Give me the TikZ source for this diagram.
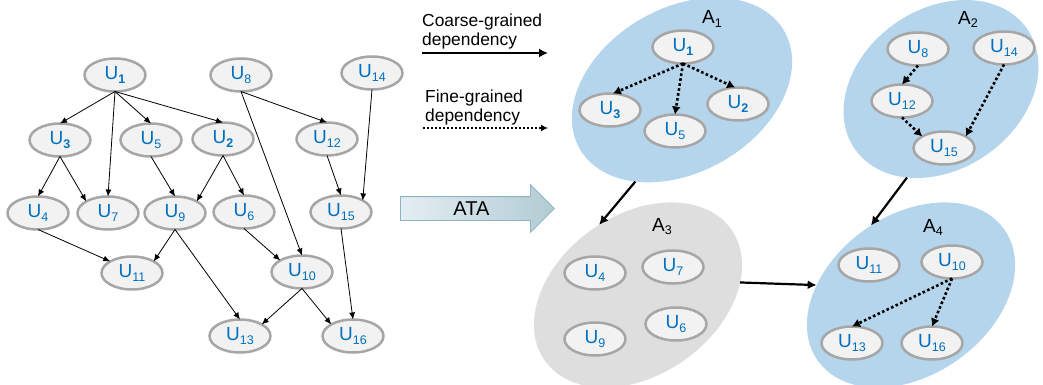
\documentclass[tikz,border=0pt]{standalone}
\usepackage{fontspec}
\setmainfont{Liberation Sans}
\usetikzlibrary{shapes.geometric,shapes.arrows,arrows.meta}
\definecolor{ublue}{RGB}{0,112,192}
\definecolor{uborder}{RGB}{166,166,166}
\definecolor{ufill}{RGB}{242,242,242}
\definecolor{clblue}{RGB}{180,213,236}
\definecolor{clgray}{RGB}{222,222,222}
\definecolor{ataL}{RGB}{228,238,242}
\definecolor{ataR}{RGB}{178,203,212}
\definecolor{ataB}{RGB}{140,180,195}
\newcommand{\Ulab}[1]{U\raisebox{-3.8pt}{\fontsize{12.5}{12.5}\selectfont #1}}
\newcommand{\Alab}[1]{A\raisebox{-3.8pt}{\fontsize{12.5}{12.5}\selectfont #1}}
\begin{document}
\begin{tikzpicture}[x=1pt,y=1pt,
  unode/.style={ellipse, draw=uborder, fill=ufill, line width=2.5pt,
    minimum width=61pt, minimum height=33pt, inner sep=0pt, outer sep=0pt,
    text=ublue, font=\fontsize{19}{19}\selectfont},
  dep/.style={-{Latex[length=7pt,width=6pt]}, line width=0.8pt},
  fine/.style={-{Latex[length=8pt,width=9pt]}, line width=2.6pt, dash pattern=on 2.6pt off 2.4pt},
  coarse/.style={-{Latex[length=9pt,width=9pt]}, line width=2.2pt},
  cluster/.style={ellipse, inner sep=0pt, outer sep=0pt},
  clabel/.style={font=\fontsize{19}{19}\selectfont, inner sep=0pt},
  legend/.style={anchor=north west, align=left, inner sep=0pt, font=\fontsize{17.4}{19}\selectfont},
]
\useasboundingbox (0,0) rectangle (1043,-385);

% ---------- original dependency graph ----------
\node[unode] (l1)  at (115,-75)  {\Ulab{\textbf{1}}};
\node[unode] (l8)  at (241,-75)  {\Ulab{8}};
\node[unode] (l14) at (372,-73)  {\Ulab{14}};
\node[unode] (l3)  at (60,-140)  {\Ulab{\textbf{3}}};
\node[unode] (l5)  at (151,-140) {\Ulab{5}};
\node[unode] (l2)  at (223,-139) {\Ulab{\textbf{2}}};
\node[unode] (l12) at (327,-139) {\Ulab{12}};
\node[unode] (l4)  at (38,-213)  {\Ulab{4}};
\node[unode] (l7)  at (108,-213) {\Ulab{7}};
\node[unode] (l9)  at (175,-213) {\Ulab{9}};
\node[unode] (l6)  at (244,-212) {\Ulab{6}};
\node[unode] (l15) at (341,-212) {\Ulab{15}};
\node[unode] (l11) at (132,-273) {\Ulab{11}};
\node[unode] (l10) at (302,-272) {\Ulab{10}};
\node[unode] (l13) at (240,-336) {\Ulab{13}};
\node[unode] (l16) at (353,-336) {\Ulab{16}};

\draw[dep] (l1.south) -- (l3.north);
\draw[dep] (l1.south) -- (l7.north);
\draw[dep] (l1.south) -- (l5.north);
\draw[dep] (l1.south) -- (l2.north);
\draw[dep] (l3.south) -- (l4.north);
\draw[dep] (l3.south) -- (l7.152);
\draw[dep] (l5.south) -- (l9.north);
\draw[dep] (l2.south) -- (l9.28);
\draw[dep] (l2.south) -- (l6.north);
\draw[dep] (l8.south) -- (l12.north);
\draw[dep] (l8.south) -- (l10.north);
\draw[dep] (l14.south) -- (l15.28);
\draw[dep] (l12.south) -- (l15.north);
\draw[dep] (l4.south) -- (l11.152);
\draw[dep] (l9.south) -- (l11.28);
\draw[dep] (l9.south) -- (l13.north);
\draw[dep] (l6.south) -- (l10.152);
\draw[dep] (l15.south) -- (l16.north);
\draw[dep] (l10.south) -- (l13.28);
\draw[dep] (l10.south) -- (l16.152);

% ---------- legend ----------
\node[legend] (lgc) at (422,-14) {Coarse-grained\\dependency};
\coordinate (cs) at (422,-53);
\coordinate (ce) at (548,-53);
\draw[coarse] (cs) -- (ce);
\node[legend] (lgf) at (425,-89.5) {Fine-grained\\dependency};
\coordinate (fs) at (423,-128);
\coordinate (fe) at (548,-128);
\draw[-{Latex[length=7pt,width=7pt]}, line width=2pt, dash pattern=on 2pt off 2pt] (fs) -- (fe);

% ---------- ATA arrow ----------
\node[single arrow, draw=ataB, line width=0.8pt, left color=ataL, right color=ataR,
  minimum height=154pt, single arrow head extend=12pt, inner xsep=0pt, inner ysep=4.5pt,
  text height=14pt, text depth=0pt, anchor=tail, font=\fontsize{20}{20}\selectfont]
  (ata) at (400,-208.5) {ATA};

% ---------- clusters ----------
\node[cluster, fill=clblue, minimum width=236pt, minimum height=164pt, rotate=30] (A1) at (682,-90) {};
\node[cluster, fill=clblue, minimum width=210pt, minimum height=160pt, rotate=35] (A2) at (941,-89) {};
\node[cluster, fill=clgray, minimum width=228pt, minimum height=160pt, rotate=35] (A3) at (638,-295) {};
\node[cluster, fill=clblue, minimum width=228pt, minimum height=160pt, rotate=35] (A4) at (911,-295) {};

\node[clabel] (A1l) at (712,-19)    {\Alab{1}};
\node[clabel] (A2l) at (968,-19.5)  {\Alab{2}};
\node[clabel] (A3l) at (662,-226.5) {\Alab{3}};
\node[clabel] (A4l) at (933,-227.5) {\Alab{4}};

% cluster A1
\node[unode] (a1u1) at (683,-47)  {\Ulab{\textbf{1}}};
\node[unode] (a1u3) at (610,-110) {\Ulab{\textbf{3}}};
\node[unode] (a1u5) at (675,-131) {\Ulab{5}};
\node[unode] (a1u2) at (738,-104) {\Ulab{\textbf{2}}};
\draw[fine] (a1u1.south) -- (a1u3.80);
\draw[fine] (a1u1.south) -- (a1u5.north);
\draw[fine] (a1u1.south) -- (a1u2.100);

% cluster A2
\node[unode] (a2u8)  at (918,-49)  {\Ulab{8}};
\node[unode] (a2u14) at (1004,-48) {\Ulab{14}};
\node[unode] (a2u12) at (902,-101) {\Ulab{12}};
\node[unode] (a2u15) at (944,-148) {\Ulab{15}};
\draw[fine] (a2u8.south) -- (a2u12.north);
\draw[fine] (a2u12.south) -- (a2u15.152);
\draw[fine] (a2u14.south) -- (a2u15.28);

% cluster A3
\node[unode] (a3u4) at (595,-273) {\Ulab{4}};
\node[unode] (a3u7) at (673,-267) {\Ulab{7}};
\node[unode] (a3u9) at (595,-339) {\Ulab{9}};
\node[unode] (a3u6) at (676,-324) {\Ulab{6}};

% cluster A4
\node[unode] (a4u11) at (869,-265) {\Ulab{11}};
\node[unode] (a4u10) at (952,-262) {\Ulab{10}};
\node[unode] (a4u13) at (852,-343) {\Ulab{13}};
\node[unode] (a4u16) at (932,-343) {\Ulab{16}};
\draw[fine] (a4u10.south) -- (a4u13.north);
\draw[fine] (a4u10.south) -- (a4u16.north);

% coarse dependencies between clusters
\draw[coarse] (A1.213) -- (A3.84);
\draw[coarse] (A2.214) -- (A4.85);
\draw[coarse] (A3.-28) -- (A4.139);
\end{tikzpicture}
\end{document}
